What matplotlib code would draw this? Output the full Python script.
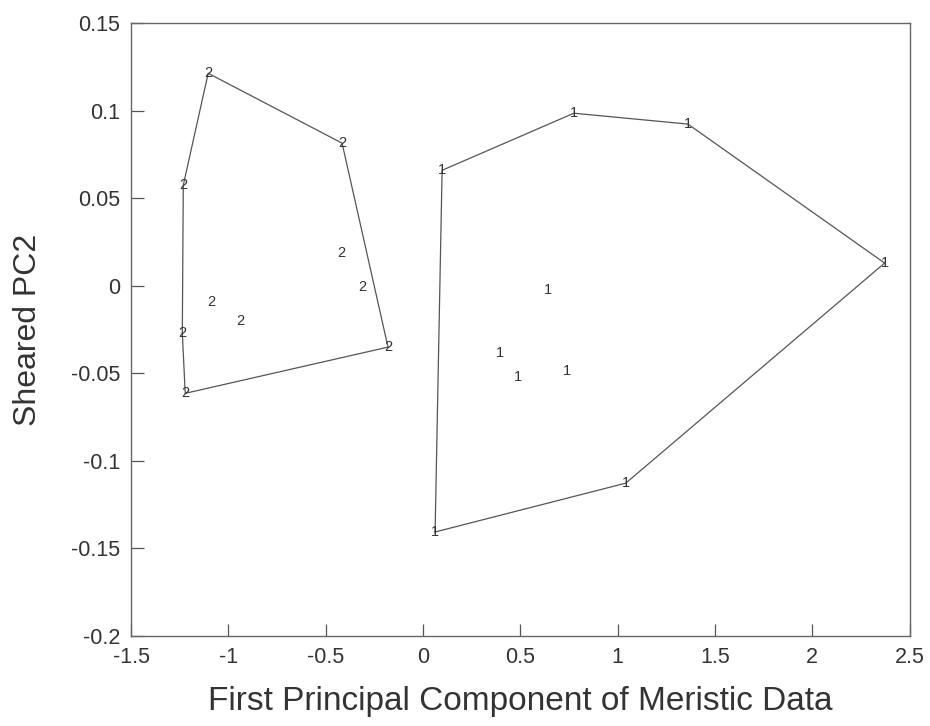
import matplotlib
matplotlib.use("Agg")
import matplotlib.pyplot as plt
import numpy as np

# group 1 (right cluster) and group 2 (left cluster)
g1_x = [0.098, 0.775, 1.361, 2.372, 1.042, 0.062, 0.642, 0.395, 0.488, 0.739]
g1_y = [0.066, 0.0986, 0.0924, 0.013, -0.1127, -0.1406, -0.0025, -0.0384, -0.0521, -0.0487]

g2_x = [-1.104, -0.416, -1.232, -0.421, -0.313, -0.180, -1.089, -0.940, -1.237, -1.222]
g2_y = [0.1214, 0.0815, 0.0575, 0.0187, -0.0007, -0.035, -0.0092, -0.0201, -0.027, -0.0614]

x_ticks = [-1.5, -1, -0.5, 0, 0.5, 1, 1.5, 2, 2.5]
y_ticks = [0.15, 0.1, 0.05, 0, -0.05, -0.1, -0.15, -0.2]


def fmt(v):
    return ("%g" % v)


def hull(xs, ys):
    # monotone chain convex hull, returns closed loop
    pts = sorted(zip(xs, ys))

    def cross(o, a, b):
        return (a[0] - o[0]) * (b[1] - o[1]) - (a[1] - o[1]) * (b[0] - o[0])

    lower, upper = [], []
    for p in pts:
        while len(lower) >= 2 and cross(lower[-2], lower[-1], p) <= 0:
            lower.pop()
        lower.append(p)
    for p in reversed(pts):
        while len(upper) >= 2 and cross(upper[-2], upper[-1], p) <= 0:
            upper.pop()
        upper.append(p)
    loop = lower[:-1] + upper[:-1]
    loop.append(loop[0])
    return np.array(loop)


plt.rcParams["font.family"] = ["Liberation Sans", "DejaVu Sans"]

fig = plt.figure(figsize=(9.30, 7.26), dpi=100)
ax = fig.add_axes([0.141, 0.124, 0.837, 0.844])

line_col = "#555555"
text_col = "#333333"

for xs, ys, lab in [(g1_x, g1_y, "1"), (g2_x, g2_y, "2")]:
    h = hull(xs, ys)
    ax.plot(h[:, 0], h[:, 1], color=line_col, linewidth=0.9)
    for x, y in zip(xs, ys):
        ax.text(x, y, lab, fontsize=10.5, color=text_col, ha="center", va="center")

ax.set_xlim(-1.5, 2.5)
ax.set_ylim(-0.2, 0.15)
ax.set_xticks(x_ticks)
ax.set_xticklabels([fmt(v) for v in x_ticks])
ax.set_yticks(y_ticks)
ax.set_yticklabels([fmt(v) for v in y_ticks])
ax.tick_params(direction="in", length=9, width=0.9, colors=line_col,
               labelcolor=text_col, labelsize=15.5, pad=8)

for s in ax.spines.values():
    s.set_color("#666666")
    s.set_linewidth(1.0)

ax.set_xlabel("First Principal Component of Meristic Data", fontsize=24,
              color=text_col, labelpad=13)
ax.set_ylabel("Sheared PC2", fontsize=23, color=text_col, labelpad=20)

fig.savefig("out.png", dpi=100)
